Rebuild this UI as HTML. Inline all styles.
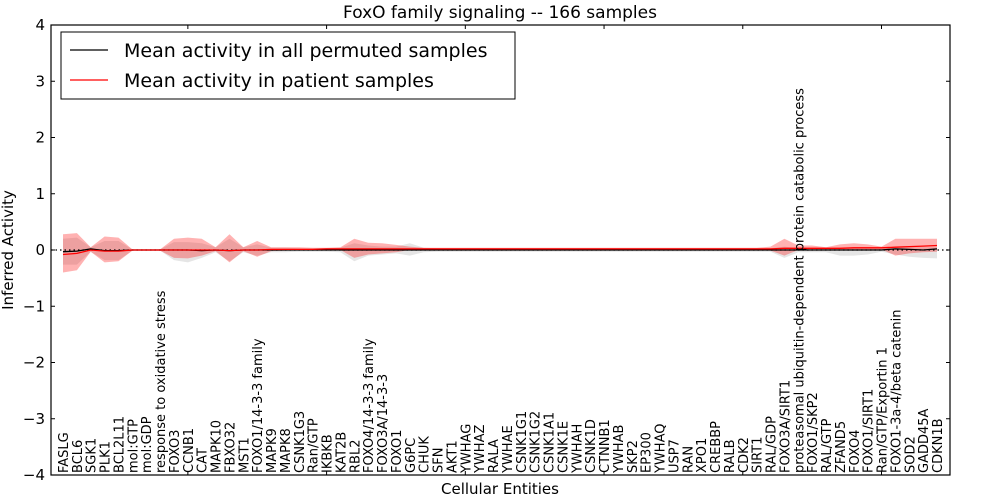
<!DOCTYPE html>
<html><head><meta charset="utf-8"><style>
body{margin:0;background:#fff}
svg{display:block;font-family:"DejaVu Sans","Liberation Sans",sans-serif}
</style></head><body>
<svg id="chart" width="1000" height="500">
<rect x="0" y="0" width="1000" height="500" fill="#fff"/>
<text x="500" y="18" font-size="17" text-anchor="middle">FoxO family signaling -- 166 samples</text>
<g id="bands"></g>
<line x1="51" y1="250" x2="950" y2="250" stroke="#000" stroke-width="1.2" stroke-dasharray="1.5,3"/>
<g id="lines"></g>
<rect x="51" y="25" width="899" height="450" fill="none" stroke="#000" stroke-width="1.2"/>
<g id="yaxis" font-size="15"></g>
<g id="xaxis" font-size="13"></g>
<text transform="translate(13,250) rotate(-90)" font-size="15" text-anchor="middle">Inferred Activity</text>
<text x="500" y="494" font-size="15" text-anchor="middle">Cellular Entities</text>
<g>
<rect x="61" y="32" width="454" height="67" fill="#fff" stroke="#000" stroke-width="1"/>
<line x1="70" y1="50" x2="108" y2="50" stroke="#000" stroke-width="1.2"/>
<text x="124" y="57" font-size="19">Mean activity in all permuted samples</text>
<line x1="70" y1="80" x2="108" y2="80" stroke="#f00" stroke-width="1.2"/>
<text x="124" y="87" font-size="19">Mean activity in patient samples</text>
</g>
</svg>
<script>
const categories=["FASLG","BCL6","SGK1","PLK1","BCL2L11","mol:GTP","mol:GDP","response to oxidative stress","FOXO3","CCNB1","CAT","MAPK10","FBXO32","MST1","FOXO1/14-3-3 family","MAPK9","MAPK8","CSNK1G3","Ran/GTP","IKBKB","KAT2B","RBL2","FOXO4/14-3-3 family","FOXO3A/14-3-3","FOXO1","G6PC","CHUK","SFN","AKT1","YWHAG","YWHAZ","RALA","YWHAE","CSNK1G1","CSNK1G2","CSNK1A1","CSNK1E","YWHAH","CSNK1D","CTNNB1","YWHAB","SKP2","EP300","YWHAQ","USP7","RAN","XPO1","CREBBP","RALB","CDK2","SIRT1","RAL/GDP","FOXO3A/SIRT1","proteasomal ubiquitin-dependent protein catabolic process","FOXO1/SKP2","RAL/GTP","ZFAND5","FOXO4","FOXO1/SIRT1","Ran/GTP/Exportin 1","FOXO1-3a-4/beta catenin","SOD2","GADD45A","CDKN1B"];
const patientMean=[-0.08,-0.06,0.0,-0.02,-0.02,0,0,0,0,0,0,0,-0.01,0,0,0.01,0.01,0.01,0.01,0.02,0.02,0.02,0.02,0.02,0.02,0.02,0.02,0.02,0.02,0.02,0.02,0.02,0.02,0.02,0.02,0.02,0.02,0.02,0.02,0.02,0.02,0.02,0.02,0.02,0.02,0.02,0.02,0.02,0.02,0.02,0.02,0.02,0.03,0.03,0.03,0.03,0.03,0.04,0.04,0.04,0.05,0.06,0.07,0.08];
const patientUpper=[0.28,0.3,0.05,0.24,0.22,0.01,0.01,0.01,0.2,0.22,0.2,0.05,0.28,0.05,0.16,0.05,0.05,0.05,0.04,0.04,0.05,0.2,0.13,0.12,0.09,0.06,0.04,0.04,0.04,0.04,0.04,0.04,0.04,0.04,0.04,0.04,0.04,0.04,0.04,0.04,0.04,0.04,0.04,0.04,0.04,0.04,0.04,0.04,0.04,0.04,0.04,0.06,0.2,0.08,0.08,0.05,0.1,0.12,0.1,0.06,0.2,0.2,0.2,0.2];
const patientLower=[-0.4,-0.36,-0.03,-0.22,-0.2,-0.01,-0.01,-0.01,-0.14,-0.15,-0.1,-0.02,-0.22,-0.02,-0.12,-0.02,-0.01,0,0,0,0,-0.14,-0.08,-0.06,-0.04,0,0,0,0,0,0,0,0,0,0,0,0,0,0,0,0,0,0,0,0,0,0,0,0,0,0,-0.01,-0.1,0,0,0,0,0,0,0.01,-0.1,-0.06,-0.04,-0.03];
const permMean=[-0.03,-0.02,0.02,-0.01,-0.01,0,0,0,0,0,-0.01,0,-0.01,0,0,0,0,0,0,0,0,0,0,0,0,0,0,0,0,0,0,0,0,0,0,0,0,0,0,0,0,0,0,0,0,0,0,0,0,0,0,0,0,0,0,0,0,0,0,0,0.02,0.01,0,0.02];
const permUpper=[0.2,0.22,0.05,0.16,0.16,0.01,0.01,0.01,0.14,0.14,0.12,0.05,0.2,0.05,0.1,0.04,0.04,0.03,0.03,0.03,0.04,0.12,0.08,0.06,0.06,0.12,0.04,0.03,0.03,0.03,0.03,0.03,0.03,0.03,0.03,0.03,0.03,0.03,0.03,0.03,0.03,0.03,0.03,0.03,0.03,0.03,0.03,0.03,0.03,0.03,0.03,0.03,0.06,0.03,0.03,0.03,0.03,0.03,0.03,0.03,0.05,0.05,0.05,0.05];
const permLower=[-0.26,-0.26,-0.03,-0.18,-0.18,-0.01,-0.01,-0.01,-0.18,-0.22,-0.14,-0.04,-0.2,-0.04,-0.1,-0.04,-0.04,-0.03,-0.03,-0.03,-0.04,-0.2,-0.1,-0.08,-0.06,-0.1,-0.04,-0.03,-0.03,-0.03,-0.03,-0.03,-0.03,-0.03,-0.03,-0.03,-0.03,-0.03,-0.03,-0.03,-0.03,-0.03,-0.03,-0.03,-0.03,-0.03,-0.03,-0.03,-0.03,-0.03,-0.03,-0.03,-0.14,-0.04,-0.04,-0.04,-0.1,-0.1,-0.08,-0.03,-0.08,-0.12,-0.14,-0.15];
const yTicks=[4,3,2,1,0,-1,-2,-3,-4];
const yTickLabels=["4","3","2","1","0","\u22121","\u22122","\u22123","\u22124"];
const xTickIdx=[9,19,29,39,49,59];

const NS="http://www.w3.org/2000/svg";
const X=i=>63+i*(874/63);
const Y=v=>250-v*56.25;
function mk(tag,attrs,parent){const e=document.createElementNS(NS,tag);for(const k in attrs)e.setAttribute(k,attrs[k]);parent.appendChild(e);return e;}
function bandPath(up,lo){let d="M"+up.map((v,i)=>X(i).toFixed(1)+","+Y(v).toFixed(1)).join("L");for(let i=lo.length-1;i>=0;i--)d+="L"+X(i).toFixed(1)+","+Y(lo[i]).toFixed(1);return d+"Z";}
function linePath(a){return "M"+a.map((v,i)=>X(i).toFixed(1)+","+Y(v).toFixed(1)).join("L");}
const bands=document.getElementById("bands"),lines=document.getElementById("lines");
const gb=mk("path",{d:bandPath(permUpper,permLower),fill:"#999",opacity:"0.25"},bands);


const rb=mk("path",{d:bandPath(patientUpper,patientLower),fill:"#f00",opacity:"0.3"},bands);


const bl=mk("path",{d:linePath(permMean),fill:"none",stroke:"#000","stroke-width":"1.3"},lines);


const rl=mk("path",{d:linePath(patientMean),fill:"none",stroke:"#f00","stroke-width":"1.3"},lines);


const ya=document.getElementById("yaxis");
yTicks.forEach((t,k)=>{
  mk("line",{x1:51,x2:55,y1:Y(t),y2:Y(t),stroke:"#000"},ya);
  mk("line",{x1:946,x2:950,y1:Y(t),y2:Y(t),stroke:"#000"},ya);
  const tx=mk("text",{x:45,y:Y(t)+5,"text-anchor":"end"},ya);
  tx.textContent=yTickLabels[k];
  
  
});
const xa=document.getElementById("xaxis");
xTickIdx.forEach(i=>{mk("line",{x1:X(i),x2:X(i),y1:475,y2:471,stroke:"#000"},xa);mk("line",{x1:X(i),x2:X(i),y1:25,y2:29,stroke:"#000"},xa);});
categories.forEach((c,i)=>{
  const t=mk("text",{transform:"translate("+(X(i)+5).toFixed(1)+",473) rotate(-90)"},xa);
  t.textContent=c;
  
  
});
</script>
</body></html>
